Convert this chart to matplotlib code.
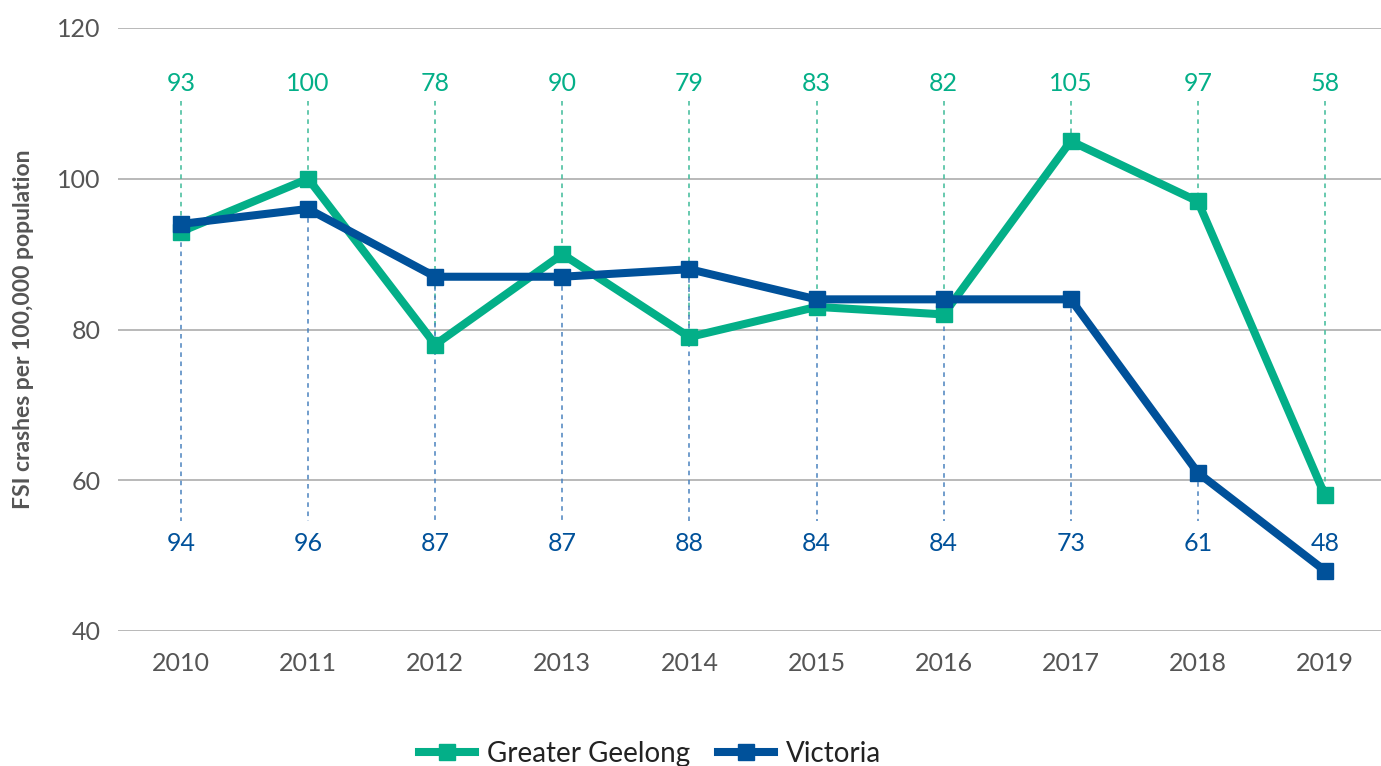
import matplotlib
matplotlib.use('Agg')
import matplotlib.pyplot as plt

plt.rcParams['font.family'] = ['Lato', 'DejaVu Sans']

years = [2010, 2011, 2012, 2013, 2014, 2015, 2016, 2017, 2018, 2019]
geelong = [93, 100, 78, 90, 79, 83, 82, 105, 97, 58]
victoria = [94, 96, 87, 87, 88, 84, 84, 84, 61, 48]
geelong_labels = ['93', '100', '78', '90', '79', '83', '82', '105', '97', '58']
victoria_labels = ['94', '96', '87', '87', '88', '84', '84', '73', '61', '48']

green = '#03AF88'
blue = '#00519A'
top_label_y = 112.7
top_dash_y = 110.3
bottom_label_y = 51.6
bottom_dash_y = 54.6

fig = plt.figure(figsize=(13.81, 7.66), dpi=100)
ax = fig.add_axes([117.5 / 1381, 1 - 631 / 766, 1271 / 1381, 603 / 766])
ax.set_xlim(2009.5, 2019.5)
ax.set_ylim(40, 120)

ax.set_yticks([40, 60, 80, 100, 120])
ax.set_xticks(years)
ax.grid(axis='y', color='#B3B3B3', linewidth=1.3)
ax.set_axisbelow(True)
for s in ax.spines.values():
    s.set_visible(False)
ax.tick_params(length=0, labelsize=18, labelcolor='#555555')
ax.tick_params(axis='x', pad=15)
ax.tick_params(axis='y', pad=12)

# dashed guide lines to the labels
for x, g, v in zip(years, geelong, victoria):
    ax.plot([x, x], [top_dash_y, g], color='#3DBB98', linestyle=(0, (3, 3)), linewidth=1.1, zorder=1)
    if v > bottom_dash_y:
        ax.plot([x, x], [v, bottom_dash_y], color='#4A82BE', linestyle=(0, (3, 3)), linewidth=1.1, zorder=1)

ax.plot(years, geelong, color=green, linewidth=5.8, marker='s', markersize=11, label='Greater Geelong', zorder=3)
ax.plot(years, victoria, color=blue, linewidth=5.8, marker='s', markersize=11, label='Victoria', zorder=4)

for x, t in zip(years, geelong_labels):
    ax.text(x, top_label_y, t, color=green, fontsize=18, ha='center', va='center')
for x, t in zip(years, victoria_labels):
    ax.text(x, bottom_label_y, t, color=blue, fontsize=18, ha='center', va='center')

ax.set_ylabel('FSI crashes per 100,000 population', fontsize=16.5, fontweight='bold', color='#555555')
ax.yaxis.set_label_coords(-0.066, 0.5)

fig.legend(loc='center', bbox_to_anchor=(0.471, 1 - 754 / 766), ncol=2, frameon=False,
           fontsize=20, handlelength=2.0, columnspacing=1.0, handletextpad=0.45, labelcolor='#222222')

plt.savefig('out.png', dpi=100)
